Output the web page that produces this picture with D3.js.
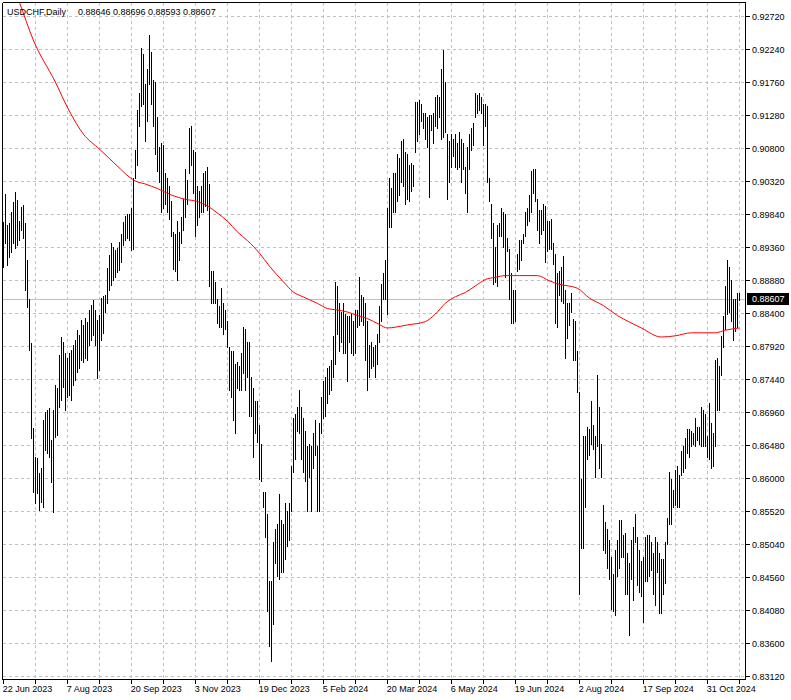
<!DOCTYPE html>
<html><head><meta charset="utf-8">
<script src="https://cdn.jsdelivr.net/npm/d3@7"></script>
<style>body{margin:0;background:#fff;} svg{display:block;} text{font-family:"Liberation Sans",Arial,sans-serif;}</style>
</head><body><svg id="c" width="791" height="700"></svg>
<script>
const high = [0.89728,0.90131,0.8968,0.89709,0.89869,0.90019,0.90156,0.90044,0.89743,0.89946,
0.89971,0.89705,0.89171,0.88599,0.87959,0.86723,0.8631,0.86287,0.86069,0.86141,
0.86844,0.86965,0.86989,0.87014,0.86553,0.86989,0.87353,0.87305,0.87789,0.88055,
0.87983,0.87814,0.87741,0.87814,0.87862,0.87935,0.88007,0.88153,0.8808,0.88298,
0.88226,0.88327,0.88269,0.88444,0.88516,0.88589,0.88444,0.88298,0.88371,0.88618,
0.88647,0.88662,0.89055,0.89244,0.89418,0.8936,0.89316,0.89346,0.89433,0.89549,
0.89724,0.89811,0.8984,0.8984,0.89927,0.90368,0.90778,0.91346,0.91598,0.9226,
0.92165,0.91724,0.91945,0.92449,0.92197,0.91787,0.91755,0.91251,0.9081,0.90873,
0.90841,0.90432,0.90369,0.90243,0.90022,0.89581,0.89549,0.89738,0.89581,0.89801,
0.90053,0.90495,0.90337,0.91094,0.91125,0.90778,0.90747,0.90243,0.9018,0.90243,
0.90432,0.90463,0.90526,0.90274,0.89013,0.89013,0.88856,0.88603,0.88509,0.88761,
0.8854,0.88446,0.88288,0.8791,0.87847,0.87847,0.87658,0.87689,0.87626,0.87815,
0.88194,0.88162,0.87973,0.87973,0.87469,0.87311,0.87122,0.87122,0.86775,0.86492,
0.85798,0.85798,0.85483,0.84506,0.84506,0.85073,0.85262,0.85325,0.85767,0.85388,
0.85325,0.8564,0.85515,0.8564,0.86176,0.8687,0.86933,0.87027,0.8728,0.87027,
0.8687,0.86681,0.8646,0.86492,0.8646,0.86649,0.86838,0.8646,0.86807,0.87185,
0.87406,0.87469,0.87595,0.87626,0.87721,0.88068,0.88856,0.88793,0.8854,0.88414,
0.8854,0.88383,0.88351,0.88351,0.88383,0.88288,0.88446,0.88446,0.88919,0.88667,
0.88635,0.8854,0.88288,0.87941,0.87973,0.8791,0.87941,0.88099,0.88509,0.88824,
0.88982,0.89171,0.89927,0.90369,0.90211,0.90432,0.90432,0.90715,0.90652,0.90904,
0.90936,0.90747,0.90715,0.90558,0.90589,0.90558,0.91472,0.91472,0.91503,0.9144,
0.91314,0.91314,0.91251,0.91283,0.91283,0.91314,0.91535,0.91566,0.91535,0.91945,
0.92228,0.91755,0.90999,0.90904,0.90999,0.90936,0.90999,0.90873,0.91031,0.90936,
0.90873,0.90526,0.9081,0.90999,0.91094,0.91157,0.91598,0.91566,0.91598,0.91535,
0.9144,0.9144,0.91409,0.90369,0.8999,0.89707,0.8936,0.89675,0.89707,0.89927,
0.89864,0.89833,0.89486,0.89328,0.88982,0.8873,0.8873,0.89265,0.89455,0.89455,
0.89549,0.89864,0.89927,0.90116,0.90463,0.90495,0.90495,0.90053,0.89896,0.89896,
0.8999,0.89959,0.89738,0.89738,0.8977,0.89423,0.89265,0.88982,0.89013,0.89076,
0.89234,0.8873,0.8854,0.8854,0.88698,0.8832,0.88288,0.87847,0.87248,0.85987,
0.86618,0.86618,0.86744,0.86712,0.87122,0.86775,0.86618,0.875,0.87027,0.86492,
0.85609,0.85357,0.85262,0.85105,0.84853,0.846,0.84947,0.85105,0.85388,0.85388,
0.85168,0.85199,0.84916,0.84758,0.85105,0.85294,0.85483,0.85136,0.84947,0.8479,
0.84853,0.85136,0.85168,0.85168,0.85073,0.84916,0.85136,0.85073,0.84916,0.84821,
0.84821,0.85073,0.8542,0.86082,0.85987,0.8583,0.86113,0.86176,0.8605,0.86397,
0.8646,0.86586,0.86712,0.86712,0.86681,0.86649,0.8687,0.86744,0.86744,0.87027,
0.86996,0.86933,0.86618,0.87091,0.86807,0.86649,0.87721,0.87752,0.87626,0.88068,
0.88351,0.88793,0.89171,0.89076,0.88887,0.88603,0.88603,0.88698,0.88696];
const low = [0.89065,0.89423,0.89098,0.89219,0.89292,0.89414,0.89341,0.89389,0.89462,0.89607,
0.89487,0.88735,0.88492,0.87862,0.86578,0.85801,0.85632,0.85778,0.85535,0.85655,
0.85583,0.86407,0.86359,0.8631,0.85946,0.8551,0.86601,0.86626,0.87037,0.87135,
0.87328,0.86989,0.87183,0.87207,0.87135,0.87353,0.87426,0.87542,0.876,0.87717,
0.87687,0.87746,0.87717,0.87935,0.88007,0.8808,0.87935,0.87455,0.87571,0.88007,
0.88109,0.88415,0.88546,0.88735,0.88807,0.8888,0.88924,0.88996,0.89026,0.89142,
0.89389,0.89462,0.89491,0.89462,0.89316,0.89328,0.90369,0.90558,0.91125,0.91409,
0.9144,0.90904,0.91188,0.91724,0.9144,0.91125,0.90715,0.90463,0.90306,0.89864,
0.89927,0.8999,0.89864,0.8977,0.89518,0.89045,0.89013,0.88887,0.89171,0.89423,
0.89612,0.89801,0.8999,0.90432,0.90558,0.90148,0.89518,0.89675,0.89801,0.89864,
0.89864,0.89959,0.89896,0.88793,0.8854,0.8854,0.8854,0.88257,0.88194,0.88194,
0.88099,0.88162,0.8791,0.8728,0.87185,0.86838,0.86649,0.87311,0.8728,0.8728,
0.87532,0.8728,0.87469,0.86901,0.86901,0.86303,0.86649,0.86523,0.85987,0.85956,
0.85578,0.85136,0.84065,0.8356,0.8334,0.83875,0.84758,0.84569,0.84537,0.84632,
0.84632,0.84821,0.8501,0.85105,0.85515,0.86082,0.86271,0.86681,0.86649,0.86271,
0.86082,0.85956,0.85515,0.86019,0.85515,0.86145,0.86334,0.85515,0.85515,0.86649,
0.8687,0.86901,0.87091,0.87217,0.8728,0.87469,0.87658,0.88099,0.87847,0.87973,
0.87815,0.87815,0.87406,0.87973,0.87815,0.87784,0.87815,0.88194,0.88225,0.88288,
0.88225,0.87721,0.8728,0.87469,0.87595,0.87626,0.87469,0.87658,0.87973,0.88288,
0.88603,0.88603,0.88383,0.89644,0.89644,0.89864,0.89864,0.90022,0.90116,0.90306,
0.90243,0.8999,0.90053,0.90022,0.9018,0.90243,0.90747,0.90904,0.90999,0.91188,
0.91094,0.90936,0.9081,0.90085,0.91062,0.90873,0.91125,0.91094,0.91251,0.90936,
0.90967,0.91031,0.90053,0.90306,0.90526,0.90684,0.90526,0.90495,0.90526,0.90306,
0.90495,0.90148,0.89864,0.90495,0.90778,0.90841,0.91251,0.91314,0.91346,0.91314,
0.90841,0.91125,0.90306,0.90022,0.89486,0.88824,0.88856,0.88793,0.89518,0.89518,
0.8936,0.88919,0.89297,0.88603,0.88257,0.88257,0.88288,0.89013,0.89045,0.89171,
0.89423,0.89518,0.89675,0.89738,0.89864,0.90148,0.90022,0.89612,0.89423,0.89549,
0.89612,0.89139,0.89309,0.89328,0.89328,0.89108,0.88257,0.88194,0.88667,0.88572,
0.8854,0.87752,0.88036,0.88225,0.88414,0.87721,0.87721,0.87248,0.8432,0.84978,
0.84978,0.85578,0.86271,0.86334,0.86492,0.86429,0.86019,0.8646,0.86145,0.86019,
0.84947,0.84916,0.84695,0.84537,0.84096,0.84065,0.84002,0.84569,0.84695,0.84853,
0.84853,0.8432,0.8432,0.83718,0.84537,0.84222,0.85073,0.84443,0.84348,0.84285,
0.83907,0.84506,0.84506,0.84569,0.84664,0.8432,0.84159,0.84632,0.84033,0.84033,
0.8432,0.84474,0.85042,0.85325,0.85325,0.85578,0.85609,0.85578,0.85578,0.8605,
0.86082,0.86145,0.86366,0.86303,0.8646,0.86492,0.8646,0.86554,0.86492,0.8646,
0.8646,0.8646,0.86303,0.86271,0.86145,0.86176,0.8646,0.86996,0.86996,0.875,
0.8791,0.88162,0.88383,0.88414,0.88288,0.88005,0.88131,0.88194,0.88593];

const maIndex = [0,8,15,26,33,40,48,57,63,66,71,77,84,91,97,102,107,112,117,122,128,133,140,145,150,157,162,167,172,177,182,188,192,196,202,211,216,221,226,231,236,241,246,251,258,267,273,278,287,293,300,307,313,319,329,336,344,356,361,368];
const maValue = [0.93549,0.92924,0.92371,0.9176,0.91338,0.91004,0.90786,0.90538,0.90378,0.9032,0.90276,0.90211,0.90116,0.90054,0.90022,0.89959,0.89855,0.89738,0.89581,0.89455,0.89273,0.89084,0.88855,0.88706,0.88633,0.88541,0.88466,0.88444,0.88415,0.88364,0.8832,0.88233,0.88182,0.88194,0.88226,0.88275,0.88383,0.88541,0.88636,0.88698,0.88793,0.88887,0.88919,0.88944,0.88944,0.88944,0.88868,0.88818,0.88761,0.88618,0.88509,0.88364,0.88269,0.88182,0.88051,0.88068,0.88112,0.88112,0.8815,0.88182];

const yTicks = [0.92720,0.92240,0.91760,0.91280,0.90800,0.90320,0.89840,0.89360,0.88880,0.88400,0.87920,0.87440,0.86960,0.86480,0.86000,0.85520,0.85040,0.84560,0.84080,0.83600,0.83120];
const xTickIndex = [0,32,64,96,128,160,192,224,256,288,320,352];
const xTickLabels = ["22 Jun 2023","7 Aug 2023","20 Sep 2023","3 Nov 2023","19 Dec 2023","5 Feb 2024","20 Mar 2024","6 May 2024","19 Jun 2024","2 Aug 2024","17 Sep 2024","31 Oct 2024"];
const symbolTitle = "USDCHF,Daily";
const lastOHLC = ["0.88646","0.88696","0.88593","0.88607"];
const lastClose = 0.88607;

const svg = d3.select("#c");
const L = 2.5, R = 745.5, T = 2.5, B = 679.5;
const y = d3.scaleLinear().domain([0.83120, 0.92720]).range([676, 16]);
const x = d3.scaleLinear().domain([0, high.length - 1]).range([3.3, 739.3]);
const px = i => Math.floor(x(i)) + 0.5;
const py = v => Math.round(y(v)) + 0.5;

svg.append("defs").append("clipPath").attr("id","clip")
  .append("rect").attr("x", L).attr("y", T).attr("width", R - L).attr("height", B - T);

const grid = svg.append("g").attr("stroke", "#c0c0c0").attr("stroke-dasharray", "3,3").attr("shape-rendering","crispEdges");
grid.selectAll("line.h").data(yTicks).join("line").attr("class","h")
  .attr("x1", L).attr("x2", R).attr("y1", d => py(d)).attr("y2", d => py(d));
const vIdx = d3.range(16, high.length, 16);
grid.selectAll("line.v").data(vIdx).join("line").attr("class","v")
  .attr("x1", d => px(d)).attr("x2", d => px(d)).attr("y1", T).attr("y2", B);

svg.append("line").attr("x1", L).attr("x2", R).attr("y1", py(lastClose)).attr("y2", py(lastClose))
  .attr("stroke", "#c0c0c0").attr("shape-rendering","crispEdges");

svg.append("g").attr("clip-path","url(#clip)").attr("stroke", "#000").attr("shape-rendering","crispEdges")
  .selectAll("line").data(high).join("line")
  .attr("x1", (d,i) => px(i)).attr("x2", (d,i) => px(i))
  .attr("y1", d => Math.round(y(d))).attr("y2", (d,i) => Math.round(y(low[i])) + 1);

const ma = maIndex.map((d,i) => [d, maValue[i]]);
svg.append("path").attr("clip-path","url(#clip)").datum(ma)
  .attr("fill","none").attr("stroke","#ff0000").attr("stroke-width",1)
  .attr("d", d3.line().curve(d3.curveMonotoneX).x(d => x(d[0])).y(d => y(d[1])));

// frame
const fr = svg.append("g").attr("stroke","#000").attr("shape-rendering","crispEdges");
fr.append("line").attr("x1",L).attr("x2",L).attr("y1",T).attr("y2",B);
fr.append("line").attr("x1",L).attr("x2",R).attr("y1",T).attr("y2",T);
fr.append("line").attr("x1",R).attr("x2",R).attr("y1",T).attr("y2",B);
fr.append("line").attr("x1",L).attr("x2",R).attr("y1",B).attr("y2",B);

// y axis ticks + labels
fr.selectAll("line.yt").data(yTicks).join("line").attr("class","yt")
  .attr("x1", R).attr("x2", R + 4).attr("y1", d => py(d)).attr("y2", d => py(d));
svg.append("g").selectAll("text").data(yTicks).join("text")
  .attr("x", 752).attr("y", d => y(d) + 3.5).attr("font-size", 9).attr("fill","#000")
  .text(d => d.toFixed(5));

// last price label
svg.append("rect").attr("x", 747).attr("y", Math.round(y(lastClose)) - 6).attr("width", 42).attr("height", 12).attr("fill","#000");
svg.append("text").attr("x", 752).attr("y", y(lastClose) + 3.5).attr("font-size", 9).attr("fill","#fff").text(lastOHLC[3]);

// x axis ticks + labels
fr.selectAll("line.xt").data(d3.range(0, high.length, 16)).join("line").attr("class","xt")
  .attr("x1", d => px(d)).attr("x2", d => px(d)).attr("y1", B).attr("y2", B + 4);
svg.append("g").selectAll("text").data(xTickIndex).join("text")
  .attr("x", d => x(d) - 0.5).attr("y", 692).attr("font-size", 9).attr("fill","#000")
  .text((d,i) => xTickLabels[i]);

// title
svg.append("text").attr("x", 7).attr("y", 14.5).attr("font-size", 9).attr("fill","#000").text(symbolTitle);
svg.append("text").attr("x", 78).attr("y", 14.5).attr("font-size", 9).attr("fill","#000").text(lastOHLC.join(" "));
</script></body></html>
